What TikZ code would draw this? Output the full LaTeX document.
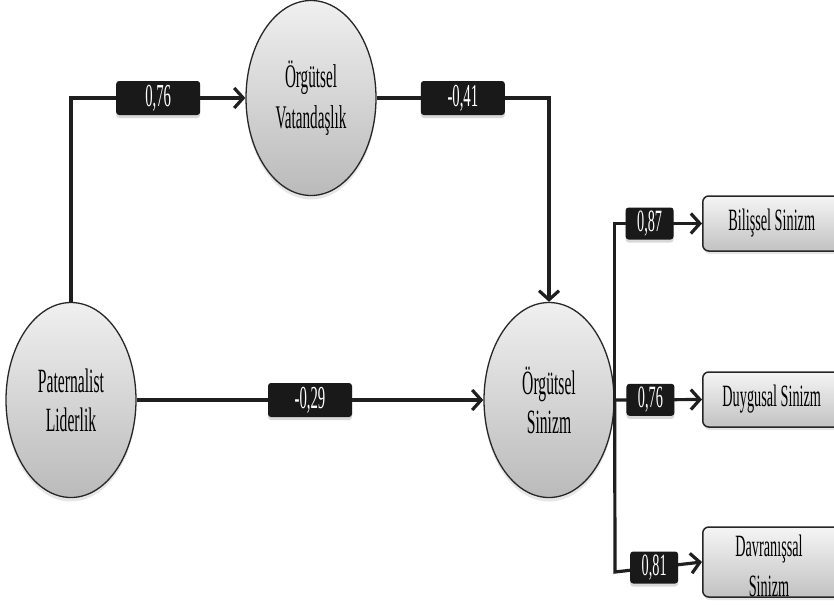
\documentclass[tikz,border=0pt]{standalone}
\usepackage{fontspec}
\setmainfont{Liberation Serif}[FakeStretch=0.46]
\usetikzlibrary{shapes.geometric,arrows.meta,shadows}
\begin{document}
\begin{tikzpicture}[x=1pt,y=-1pt,
  lat/.style={ellipse, draw=black!85, line width=1.3pt, top color=black!6, bottom color=black!27,
    minimum width=130pt, minimum height=195pt, inner sep=0pt, align=center,
    drop shadow={shadow xshift=0pt, shadow yshift=-4pt, opacity=0.2}},
  obs/.style={rectangle, rounded corners=6pt, draw=black!85, line width=1.5pt, top color=black!4,
    bottom color=black!24, minimum width=138pt, inner sep=0pt, anchor=west,
    font=\fontsize{31}{40}\selectfont,
    drop shadow={shadow xshift=1pt, shadow yshift=-3pt, opacity=0.2}},
  lab/.style={fill=black!90, rounded corners=3pt, text=white, minimum width=84pt, minimum height=34pt,
    inner sep=0pt, font=\fontsize{32}{32}\selectfont,
    drop shadow={shadow xshift=0pt, shadow yshift=-3pt, opacity=0.3}},
  slab/.style={lab, minimum width=48pt, minimum height=32pt, font=\fontsize{31}{31}\selectfont},
  conn/.style={line width=3.2pt, draw=black!88, -{Straight Barb[length=9pt,width=20pt]}},
]
\useasboundingbox (0,0) rectangle (834,605);
\clip (0,0) rectangle (834,605);

\node[lat, font=\fontsize{33}{41}\selectfont] (OV) at (311,98) {Örgütsel\\Vatandaşlık};
\node[lat, font=\fontsize{34}{39}\selectfont] (PL) at (71,400) {Paternalist\\Liderlik};
\node[lat, font=\fontsize{34}{39}\selectfont] (OS) at (549,400) {Örgütsel\\Sinizm};

\node[obs, minimum height=55pt] (BS) at (702,223.5) {Bilişsel Sinizm};
\node[obs, minimum height=55pt] (DS) at (702,399.5) {Duygusal Sinizm};
\node[obs, minimum height=70pt] (DV) at (702,562) {};
\node[align=center, font=\fontsize{31}{40}\selectfont, inner sep=0pt] (DVt) at (769,566) {Davranışsal\\Sinizm};

\coordinate (c3) at (615,572);

\draw[conn] (PL.north) |- (OV.west) node[lab, pos=0.75] (l1) {0,76};
\draw[conn] (OV.east) -| (OS.north) node[lab, pos=0.25] (l2) {-0,41};
\draw[conn] (PL.east) -- (OS.west) node[lab, pos=0.5] (l3) {-0,29};

\draw[conn] (OS.east) |- (BS.west) node[slab, pos=0.7] (l4) {0,87};
\draw[conn] (OS.east) -- (DS.west) node[slab, pos=0.41] (l5) {0,76};
\draw[conn] (OS.east) -- (c3) -- (DV.west) node[slab, pos=0.45] (l6) {0,81};
\end{tikzpicture}
\end{document}
